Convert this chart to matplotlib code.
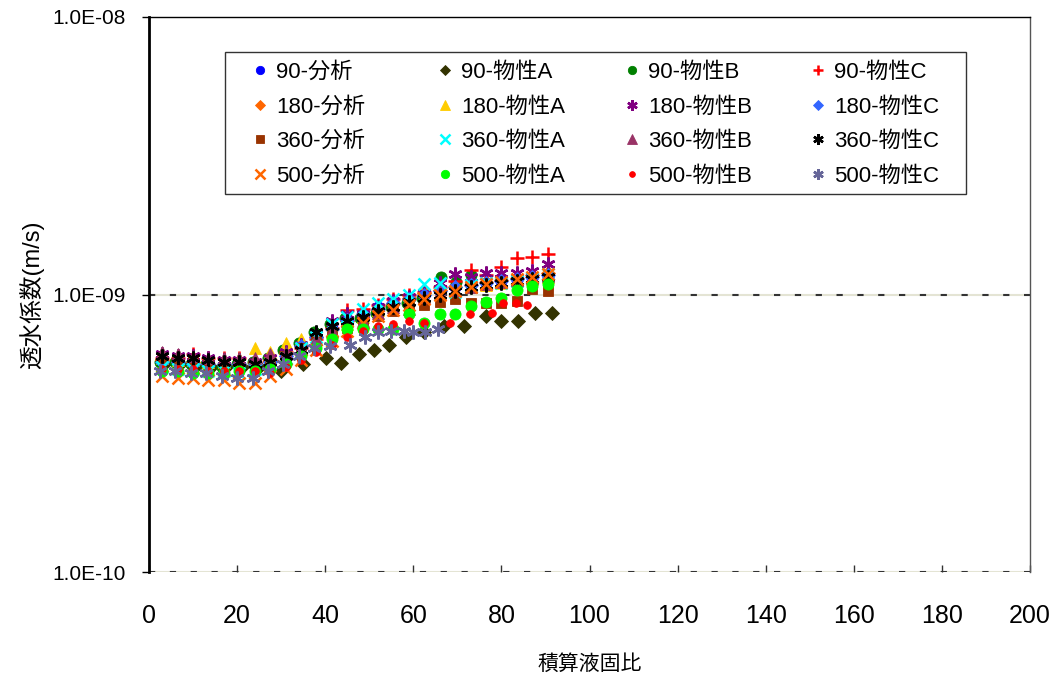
import math
import matplotlib
matplotlib.use("Agg")
import matplotlib.pyplot as plt
from matplotlib.patches import Rectangle
from matplotlib.ticker import FixedLocator, FuncFormatter, NullLocator

plt.rcParams['font.family'] = ['Liberation Sans', 'Noto Sans CJK JP', 'DejaVu Sans']

# x positions (積算液固比)
X_FULL = [3, 6.5, 10, 13.5, 17, 20.5, 24, 27.5, 31, 34.5, 38, 41.5, 45, 48.5,
          52, 55.5, 59, 62.5, 66, 69.5, 73, 76.5, 80, 83.5, 87, 90.5]
X_B90 = [2.5, 6, 9.5, 13, 16.5, 20, 23.5, 27, 30.5, 34, 37.5, 41, 44.5, 48,
         51.5, 55, 58.5, 62, 66.3, 69.7, 73]
X_A90 = [3.5, 7, 10.5, 14, 17.5, 21, 25, 30, 35, 40.2, 43.6, 47.7, 51, 54.5,
         58.3, 62.5, 67, 71.5, 76.5, 80, 83.8, 87.6, 91.5]
X_B500 = [3, 6.5, 10, 13.5, 17, 20.5, 24, 27.5, 31, 34.5, 38, 41.5, 45, 48.5,
          52, 55.5, 59, 62.5, 68.3, 72.9, 77.9, 80.4, 83.3, 85.8]
X_C500 = [2.5, 6, 9.5, 13, 16.5, 20, 23.5, 27, 30.5, 34, 37.5, 41, 45.6, 49,
          52, 55, 58, 60, 62.7, 65.5]

# 透水係数 values, in units of 1e-10 m/s
k_90_bunseki = [5.8, 5.7, 5.7, 5.6, 5.6, 5.5, 5.6, 5.8, 6.1, 6.6, 7.1, 7.6, 8.1,
                8.6, 9.0, 9.4, 9.7, 10.0, 10.3, 10.6, 10.8, 11.0, 11.2, 11.3, 11.5, 11.6]
k_90_A = [5.6, 5.6, 5.5, 5.5, 5.5, 5.5, 5.5, 5.3, 5.6, 5.9, 5.65, 6.1, 6.3, 6.6,
          7.0, 7.3, 7.7, 7.7, 8.4, 8.0, 8.0, 8.6, 8.6]
k_90_B = [5.7, 5.7, 5.6, 5.6, 5.5, 5.6, 5.7, 5.9, 6.3, 6.7, 7.3, 7.8, 8.2, 8.2,
          8.6, 9.0, 9.3, 9.7, 11.6, 11.1, 11.8]
k_90_C = [5.9, 5.9, 6.1, 5.9, 5.9, 5.9, 5.7, 5.8, 6.2, 6.4, 6.9, 7.6, 8.8, 8.9,
          9.2, 9.6, 10.0, 10.2, 10.6, 11.2, 12.3, 11.8, 12.6, 13.5, 13.7, 14.0]
k_180_bunseki = [5.8, 5.7, 5.7, 5.6, 5.6, 5.6, 5.6, 5.8, 6.1, 6.5, 7.0, 7.5, 8.0,
                 8.5, 8.9, 9.3, 9.7, 10.1, 10.4, 10.6, 10.8, 11.1, 11.3, 11.5, 11.8, 12.0]
k_180_A = [5.9, 5.8, 5.8, 5.7, 5.7, 5.9, 6.4, 6.2, 6.7, 6.9, 7.0, 7.3, 7.8, 8.3,
           8.8, 9.2, 9.6, 9.9, 10.2, 10.4, 10.6, 10.8, 11.0, 11.2, 11.4, 11.6]
k_180_B = [6.1, 6.0, 6.0, 5.9, 5.8, 5.8, 5.7, 5.9, 6.2, 6.6, 7.2, 8.0, 8.5, 8.5,
           9.0, 9.5, 9.8, 10.1, 11.0, 11.9, 11.6, 12.0, 12.0, 12.0, 12.2, 12.9]
k_180_C = [5.7, 5.7, 5.6, 5.6, 5.6, 5.6, 5.6, 5.7, 6.0, 6.5, 7.0, 7.5, 8.1, 8.5,
           8.9, 9.3, 9.6, 10.0, 10.3, 10.6, 10.8, 11.0, 11.2, 11.4, 11.6, 11.8]
k_360_bunseki = [5.9, 5.8, 5.8, 5.7, 5.6, 5.5, 5.5, 5.7, 6.0, 6.4, 6.8, 7.2, 7.6,
                 8.0, 8.4, 8.7, 9.0, 9.2, 9.4, 9.6, 9.3, 9.3, 9.3, 9.5, 10.5, 10.3]
k_360_A = [5.5, 5.4, 5.4, 5.3, 5.3, 5.2, 5.4, 5.6, 5.9, 6.4, 7.0, 7.8, 8.3, 8.9,
           9.3, 9.6, 10.0, 10.9, 11.0, 10.2, 10.8, 11.0, 11.0, 11.2, 11.5, 11.9]
k_360_B = [6.2, 6.1, 6.0, 5.9, 5.9, 5.9, 5.9, 6.1, 6.2, 6.4, 6.9, 7.4, 8.0, 8.0,
           8.6, 9.0, 8.9, 9.8, 10.2, 10.4, 10.6, 10.9, 11.1, 11.3, 11.5, 11.7]
k_360_C = [6.0, 5.9, 5.9, 5.8, 5.7, 5.7, 5.6, 5.7, 6.0, 6.3, 7.3, 7.7, 8.0, 8.3,
           8.7, 9.0, 9.4, 9.7, 10.0, 10.3, 10.6, 10.8, 11.0, 11.2, 11.4, 11.6]
k_500_bunseki = [5.1, 5.0, 5.0, 4.9, 4.9, 4.8, 4.8, 5.1, 5.4, 5.8, 6.3, 6.8, 7.4,
                 7.9, 8.4, 8.8, 9.2, 9.6, 10.0, 10.3, 10.6, 10.9, 11.1, 11.4, 11.6, 11.9]
k_500_A = [5.3, 5.3, 5.2, 5.2, 5.2, 5.3, 5.3, 5.4, 5.6, 6.0, 6.4, 6.9, 7.5, 7.5,
           7.5, 7.5, 8.5, 7.9, 8.5, 8.5, 9.1, 9.4, 9.7, 10.4, 10.7, 10.9]
k_500_B = [5.4, 5.4, 5.4, 5.3, 5.3, 5.3, 5.3, 5.2, 5.5, 5.8, 6.2, 6.6, 7.0, 7.4,
           7.7, 7.8, 8.0, 7.9, 7.9, 8.5, 8.6, 9.3, 9.3, 9.2]
k_500_C = [5.3, 5.3, 5.2, 5.2, 5.1, 5.0, 5.0, 5.3, 5.6, 6.0, 6.4, 6.5, 6.6, 7.0,
           7.3, 7.4, 7.4, 7.3, 7.3, 7.5]

ASTER = (6, 2, 0)

# series in drawing order (row-wise, as in the legend)
series = [
    ("90-分析", X_FULL, k_90_bunseki, "o", "#0000FF", 8),
    ("90-物性A", X_A90, k_90_A, "D", "#333300", 7),
    ("90-物性B", X_B90, k_90_B, "o", "#008000", 8),
    ("90-物性C", X_FULL, k_90_C, "+", "#FF0000", 10),
    ("180-分析", X_FULL, k_180_bunseki, "D", "#FF6600", 7),
    ("180-物性A", X_FULL, k_180_A, "^", "#FFCC00", 9),
    ("180-物性B", X_FULL, k_180_B, ASTER, "#800080", 10),
    ("180-物性C", X_FULL, k_180_C, "D", "#3366FF", 7),
    ("360-分析", X_FULL, k_360_bunseki, "s", "#993300", 7),
    ("360-物性A", X_FULL, k_360_A, "x", "#00FFFF", 9),
    ("360-物性B", X_FULL, k_360_B, "^", "#993366", 9),
    ("360-物性C", X_FULL, k_360_C, ASTER, "#000000", 10),
    ("500-分析", X_FULL, k_500_bunseki, "x", "#FF6600", 9),
    ("500-物性A", X_FULL, k_500_A, "o", "#00FF00", 8),
    ("500-物性B", X_B500, k_500_B, "o", "#FF0000", 5.5),
    ("500-物性C", X_C500, k_500_C, ASTER, "#666699", 10),
]

fig = plt.figure(figsize=(10.6, 6.8), dpi=100)
ax = fig.add_axes([149 / 1060, 1 - 572 / 680, (1030 - 149) / 1060, (572 - 17) / 680])

# grid lines (light base with dark dashes)
for yv in [1e-9, 1e-10]:
    ax.axhline(yv, color="#e4e4d4", lw=1.5, zorder=1)
    ax.axhline(yv, color="#333333", lw=1.5, dashes=(3, 7), zorder=1.1)

handles = {}
for name, xs, ks, mk, col, ms in series:
    ys = [k * 1e-10 for k in ks]
    filled = mk not in ("+", "x", ASTER)
    h, = ax.plot(xs, ys, linestyle="none", marker=mk, markersize=ms,
                 markerfacecolor=col if filled else "none",
                 markeredgecolor=col, markeredgewidth=0.6 if filled else 1.8,
                 label=name, zorder=3)
    handles[name] = h

ax.set_yscale("log")
ax.set_xlim(0, 200)
ax.set_ylim(1e-10, 1e-8)
ax.yaxis.set_major_locator(FixedLocator([1e-10, 1e-9, 1e-8]))
ax.yaxis.set_minor_locator(NullLocator())
ax.yaxis.set_major_formatter(FuncFormatter(lambda v, p: "1.0E-%02d" % round(-math.log10(v))))
ax.set_xticks(range(0, 201, 20))

ax.tick_params(axis="x", direction="in", length=5, width=1, color="#333333",
               pad=23, labelsize=18)
ax.tick_params(axis="y", direction="out", length=5, width=1, pad=12, labelsize=15)

ax.spines["left"].set_linewidth(2)
ax.spines["left"].set_color("black")
ax.spines["top"].set_linewidth(1)
ax.spines["right"].set_linewidth(1)
ax.spines["right"].set_color("#555555")
ax.spines["bottom"].set_visible(False)

ax.set_xlabel("積算液固比", fontsize=15, labelpad=19)
ax.set_ylabel("透水係数(m/s)", fontsize=17, labelpad=6)

# legend: one block per column, inside a single frame
fig.add_artist(Rectangle((225 / 1060, 1 - 194 / 680), 741 / 1060, 142 / 680,
                         transform=fig.transFigure, facecolor="white",
                         edgecolor="#333333", linewidth=1, zorder=4))
col_x = [248.9, 433.9, 620.9, 806.9]
for cx, kind in zip(col_x, ["分析", "物性A", "物性B", "物性C"]):
    names = [d + "-" + kind for d in ["90", "180", "360", "500"]]
    lg = fig.legend([handles[n] for n in names], names, ncol=1,
                    bbox_to_anchor=(cx / 1060, 1 - 124.5 / 680), loc="center left",
                    fontsize=16, frameon=False, markerscale=0.75,
                    handlelength=1.0, handletextpad=0.22, labelspacing=0.61,
                    borderpad=0, borderaxespad=0)
    lg.set_zorder(5)

fig.savefig("out.png", dpi=100)
